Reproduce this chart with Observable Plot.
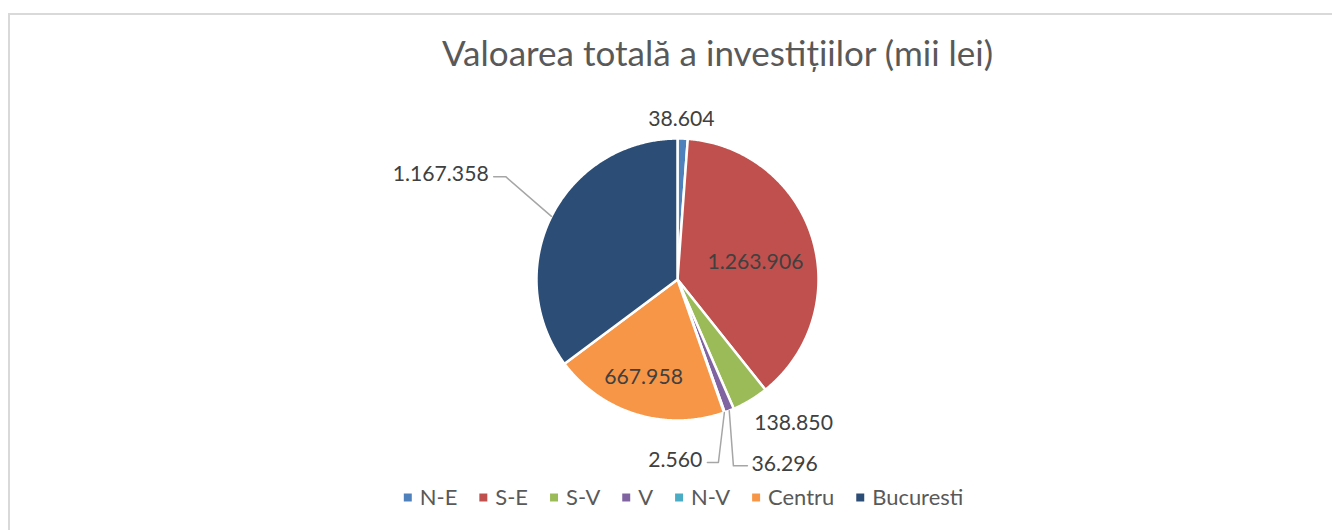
<!DOCTYPE html>
<html>
<head>
<meta charset="utf-8">
<script src="https://cdn.jsdelivr.net/npm/d3@7"></script>
<script src="https://cdn.jsdelivr.net/npm/@observablehq/plot@0.6"></script>
<style>
  html, body { margin: 0; padding: 0; background: #fff; }
  #wrap { position: relative; width: 1332px; height: 530px; overflow: hidden; }
  #frame { position: absolute; left: 8px; top: 13px; width: 1330px; height: 530px;
           border: 2px solid #d9d9d9; box-sizing: border-box; pointer-events: none; }
  #chart { position: absolute; left: 0; top: 0; }
</style>
</head>
<body>
<div id="wrap"><div id="chart"></div><div id="frame"></div></div>
<script>
// ---- data ----
const title = "Valoarea totală a investițiilor (mii lei)";
const categories = ["N-E", "S-E", "S-V", "V", "N-V", "Centru", "Bucuresti"];
const values = [38604, 1263906, 138850, 36296, 2560, 667958, 1167358];
const colors = ["#4F81BD", "#C0504D", "#9BBB59", "#8064A2", "#4BACC6", "#F79646", "#2C4D75"];

// ---- layout ----
const W = 1332, H = 530;
const cx = 677, cy = 279, R = 141;
const FONT = "Lato";
const labelLayout = {
  "N-E": {r: 1.135, da: -0.7},
  "S-E": {r: 0.566, da: 4.9},
  "S-V": {r: 1.31, da: -7.9},
  "V": {leader: {elbowR: 1.38, elbowA: 163.3, run: 14, gap: 4}, anchor: "start"},
  "N-V": {leader: {elbowR: 1.33, elbowA: 167.4, run: -11, gap: 5}, anchor: "end"},
  "Centru": {r: 0.735, da: 2.1},
  "Bucuresti": {leader: {elbowR: 1.42, elbowA: 300.9, run: -12, gap: 5}, anchor: "end"}
};

const fmt = d3.formatLocale({decimal: ",", thousands: ".", grouping: [3], currency: ["", ""]}).format(",d");
const ctx = document.createElement("canvas").getContext("2d");
function measure(text, size) { ctx.font = `${size}px ${FONT}`; return ctx.measureText(text).width; }
function fit(text, target) { return 100 * target / measure(text, 100); }

const titleSize = fit(title, 552);
const labelSize = fit("1.263.906", 96);
const legendSize = fit("Bucuresti", 91);

const rad = a => a * Math.PI / 180;
const polar = (aRad, r) => ({x: cx + r * Math.sin(aRad), y: cy - r * Math.cos(aRad)});

const arcs = d3.pie().sort(null).value(d => d)(values);

// slice polygons
const slices = arcs.map((a, i) => {
  const pts = [{x: cx, y: cy}];
  const n = Math.max(2, Math.ceil((a.endAngle - a.startAngle) / rad(0.5)));
  for (let k = 0; k <= n; k++) pts.push(polar(a.startAngle + (a.endAngle - a.startAngle) * k / n, R));
  pts.push({x: cx, y: cy});
  return {name: categories[i], color: colors[i], pts};
});

// labels and leaders
const labels = [];
const leaders = [];
arcs.forEach((a, i) => {
  const name = categories[i];
  const L = labelLayout[name];
  const mid = (a.startAngle + a.endAngle) / 2;
  const text = fmt(values[i]);
  if (L.leader) {
    const edge = polar(mid, R);
    const elbow = polar(rad(L.leader.elbowA), R * L.leader.elbowR);
    const end = {x: elbow.x + L.leader.run, y: elbow.y};
    leaders.push({name, pts: [edge, elbow, end]});
    const dir = Math.sign(L.leader.run);
    labels.push({text, x: end.x + dir * L.leader.gap, y: end.y - 2, anchor: L.anchor});
  } else {
    const p = polar(mid + rad(L.da || 0), R * L.r);
    labels.push({text, x: p.x, y: p.y, anchor: "middle"});
  }
});

// legend layout
const markerSize = 8, markerGap = 8, itemGap = 22, legendCx = 683, legendY = 497;
const widths = categories.map(c => measure(c, legendSize));
const total = d3.sum(widths) + categories.length * (markerSize + markerGap) + (categories.length - 1) * itemGap;
let xpos = legendCx - total / 2;
const legendItems = categories.map((c, i) => {
  const item = {name: c, color: colors[i], mx: xpos + markerSize / 2, tx: xpos + markerSize + markerGap};
  xpos += markerSize + markerGap + widths[i] + itemGap;
  return item;
});

const marks = [
  ...slices.map(s => Plot.line(s.pts, {x: "x", y: "y", fill: s.color, stroke: "white", strokeWidth: 2.5, strokeLinejoin: "round"})),
  ...leaders.map(l => Plot.line(l.pts, {x: "x", y: "y", stroke: "#a6a6a6", strokeWidth: 1.5})),
  Plot.text(labels, {x: "x", y: "y", text: "text", textAnchor: "anchor", fill: "#404040",
    fontFamily: FONT, fontSize: labelSize, lineAnchor: "middle"}),
  Plot.text([title], {x: 717, y: 54, text: d => d, fill: "#595959", fontFamily: FONT, fontSize: titleSize, lineAnchor: "middle"}),
  Plot.dot(legendItems, {x: "mx", y: legendY, fill: "color", symbol: "square", r: 4.5, stroke: null}),
  Plot.text(legendItems, {x: "tx", y: legendY, text: "name", textAnchor: "start", fill: "#595959",
    fontFamily: FONT, fontSize: legendSize, lineAnchor: "middle"})
];
// fix textAnchor channel (Plot textAnchor is constant), split labels by anchor
marks.splice(marks.length - 4, 1,
  ...["start", "middle", "end"].map(anc => Plot.text(labels.filter(d => d.anchor === anc),
    {x: "x", y: "y", text: "text", textAnchor: anc, fill: "#404040", fontFamily: FONT, fontSize: labelSize, lineAnchor: "middle"}))
);

const chart = Plot.plot({
  width: W, height: H, margin: 0,
  x: {domain: [0, W], range: [0, W], axis: null},
  y: {domain: [0, H], range: [0, H], axis: null},
  style: {background: "transparent"},
  marks
});
document.getElementById("chart").appendChild(chart);
</script>
</body>
</html>
